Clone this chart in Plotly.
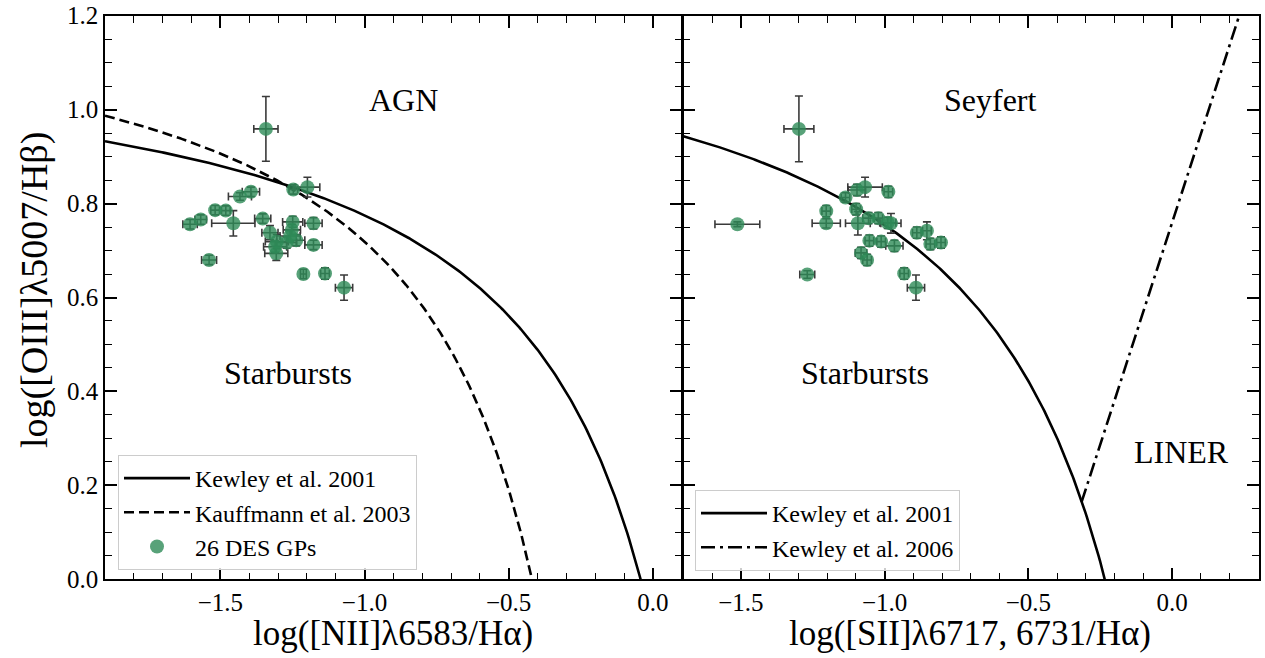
import numpy as np
import plotly.graph_objects as go

# ---------------- data ----------------
# BPT [NII] panel
nii_x = [-1.342, -1.247, -1.198, -1.432, -1.394, -1.518, -1.481, -1.455, -1.605, -1.568,
         -1.353, -1.249, -1.177, -1.328, -1.252, -1.304, -1.270, -1.237, -1.310, -1.306,
         -1.177, -1.539, -1.212, -1.137, -1.071, -1.258]
nii_y = [0.959, 0.830, 0.835, 0.815, 0.825, 0.786, 0.785, 0.758, 0.756, 0.766,
         0.768, 0.761, 0.758, 0.738, 0.744, 0.719, 0.717, 0.722, 0.708, 0.694,
         0.712, 0.680, 0.650, 0.651, 0.621, 0.731]
nii_xerr = [0.042, 0.015, 0.043, 0.040, 0.030, 0.015, 0.015, 0.075, 0.025, 0.020,
            0.028, 0.035, 0.030, 0.028, 0.030, 0.040, 0.035, 0.030, 0.040, 0.040,
            0.030, 0.026, 0.010, 0.015, 0.030, 0.035]
nii_yerr = [0.069, 0.010, 0.021, 0.008, 0.010, 0.010, 0.010, 0.027, 0.010, 0.010,
            0.010, 0.012, 0.012, 0.015, 0.012, 0.015, 0.012, 0.012, 0.012, 0.015,
            0.010, 0.010, 0.010, 0.012, 0.027, 0.012]

# BPT [SII] panel
sii_x = [-1.298, -1.512, -1.269, -1.203, -1.203, -1.136, -1.096, -1.068, -0.987, -1.099,
         -1.093, -1.056, -1.022, -0.989, -0.978, -1.053, -1.012, -0.966, -1.082, -1.061,
         -0.888, -0.853, -0.841, -0.804, -0.932, -0.891]
sii_y = [0.959, 0.756, 0.649, 0.784, 0.758, 0.813, 0.829, 0.835, 0.825, 0.788,
         0.758, 0.769, 0.769, 0.759, 0.758, 0.721, 0.719, 0.710, 0.695, 0.680,
         0.738, 0.742, 0.714, 0.717, 0.651, 0.621]
sii_xerr = [0.052, 0.078, 0.026, 0.015, 0.049, 0.015, 0.030, 0.060, 0.015, 0.015,
            0.043, 0.020, 0.015, 0.028, 0.035, 0.015, 0.015, 0.030, 0.020, 0.015,
            0.015, 0.015, 0.015, 0.015, 0.015, 0.030]
sii_yerr = [0.070, 0.005, 0.008, 0.012, 0.010, 0.010, 0.012, 0.021, 0.012, 0.012,
            0.025, 0.012, 0.012, 0.012, 0.021, 0.012, 0.012, 0.012, 0.012, 0.012,
            0.012, 0.019, 0.012, 0.012, 0.012, 0.027]

# published demarcation lines: y = a / (x - b) + c
kewley01_nii = (0.61, 0.47, 1.19)
kauffmann03_nii = (0.61, 0.05, 1.30)
kewley01_sii = (0.72, 0.32, 1.30)
# Kewley 2006 Seyfert/LINER line: y = m * x + q (starting at its crossing with Kewley 2001)
kewley06_sii = (1.89, 0.76)
kewley06_start = -0.315

legend_left = ["Kewley et al. 2001", "Kauffmann et al. 2003", "26 DES GPs"]
legend_right = ["Kewley et al. 2001", "Kewley et al. 2006"]
region_labels = ["AGN", "Starbursts", "Seyfert", "Starbursts", "LINER"]

x_title_left = "log([NII]λ6583/Hα)"
x_title_right = "log([SII]λ6717, 6731/Hα)"
y_title = "log([OIII]λ5007/Hβ)"


def hyper(coef, xs):
    a, b, c = coef
    xs = np.asarray(xs)
    return a / (xs - b) + c


FONT = "Liberation Serif, Times New Roman, serif"
GREEN = "rgba(46,139,87,0.8)"
ERRC = "#3a3a3a"

fig = go.Figure()

# ---- left panel curves
xa = np.linspace(-1.9, 0.0, 300)
fig.add_trace(go.Scatter(x=xa, y=hyper(kewley01_nii, xa), mode="lines",
                         line=dict(color="black", width=2.6), name=legend_left[0],
                         xaxis="x", yaxis="y", legend="legend"))
xb = np.linspace(-1.9, -0.40, 300)
fig.add_trace(go.Scatter(x=xb, y=hyper(kauffmann03_nii, xb), mode="lines",
                         line=dict(color="black", width=2.6, dash="10px,5px"), name=legend_left[1],
                         xaxis="x", yaxis="y", legend="legend"))
fig.add_trace(go.Scatter(x=nii_x, y=nii_y, mode="markers", name=legend_left[2],
                         marker=dict(size=14, color=GREEN, line=dict(width=0)),
                         error_x=dict(type="data", array=nii_xerr, color=ERRC, thickness=1.6, width=4),
                         error_y=dict(type="data", array=nii_yerr, color=ERRC, thickness=1.6, width=4),
                         xaxis="x", yaxis="y", legend="legend"))

# ---- right panel curves
xc = np.linspace(-1.7, -0.18, 300)
fig.add_trace(go.Scatter(x=xc, y=hyper(kewley01_sii, xc), mode="lines",
                         line=dict(color="black", width=2.6), name=legend_right[0],
                         xaxis="x2", yaxis="y2", legend="legend2"))
m, q = kewley06_sii
xd = np.array([kewley06_start, 0.3])
fig.add_trace(go.Scatter(x=xd, y=m * xd + q, mode="lines",
                         line=dict(color="black", width=2.6, dash="14px,5px,3px,5px"),
                         name=legend_right[1], xaxis="x2", yaxis="y2", legend="legend2"))
fig.add_trace(go.Scatter(x=sii_x, y=sii_y, mode="markers", showlegend=False,
                         marker=dict(size=14, color=GREEN, line=dict(width=0)),
                         error_x=dict(type="data", array=sii_xerr, color=ERRC, thickness=1.6, width=4),
                         error_y=dict(type="data", array=sii_yerr, color=ERRC, thickness=1.6, width=4),
                         xaxis="x2", yaxis="y2"))

W, H = 1265, 658
LW = 1.6
xl0, xl1 = 105 / W, 681.7 / W
xr0, xr1 = (681.7 + LW) / W, 1258.5 / W
yb, yt = 1 - 579.3 / H, 1 - 15.7 / H

axis_common = dict(showline=True, linecolor="black", linewidth=LW, mirror="allticks",
                   ticks="inside", ticklen=12, tickwidth=1.5, tickcolor="black",
                   showgrid=False, zeroline=False, automargin=False,
                   tickfont=dict(family=FONT, size=25, color="black"))
minor_x = dict(ticks="inside", ticklen=7, tickwidth=1.2, dtick=0.1, tick0=0, tickcolor="black")
minor_y = dict(ticks="inside", ticklen=7, tickwidth=1.2, dtick=0.05, tick0=0, tickcolor="black")

fig.update_layout(
    template="none",
    width=W, height=H,
    margin=dict(l=0, r=0, t=0, b=0, autoexpand=False),
    paper_bgcolor="white", plot_bgcolor="white",
    font=dict(family=FONT, color="black"),
    xaxis=dict(domain=[xl0, xl1], range=[-1.9, 0.1], dtick=0.5, tick0=0, anchor="y",
               tickformat=".1f", minor=minor_x, **axis_common),
    yaxis=dict(domain=[yb, yt], range=[0, 1.2], dtick=0.2, tick0=0, anchor="x",
               tickformat=".1f", minor=minor_y, **axis_common),
    xaxis2=dict(domain=[xr0, xr1], range=[-1.7, 0.3], dtick=0.5, tick0=0, anchor="y2",
                tickformat=".1f", minor=minor_x, **axis_common),
    yaxis2=dict(domain=[yb, yt], range=[0, 1.2], dtick=0.2, tick0=0, anchor="x2",
                minor=minor_y, showticklabels=False, **axis_common),
    legend=dict(x=118 / W, y=1 - 455 / H, xanchor="left", yanchor="top",
                bgcolor="rgba(255,255,255,0.8)", bordercolor="#cccccc", borderwidth=1,
                font=dict(family=FONT, size=24, color="black"), itemwidth=66),
    legend2=dict(x=695 / W, y=1 - 490 / H, xanchor="left", yanchor="top",
                 bgcolor="rgba(255,255,255,0.8)", bordercolor="#cccccc", borderwidth=1,
                 font=dict(family=FONT, size=24, color="black"), itemwidth=66),
)

# axis titles
XT_SIZE = 35
fig.add_annotation(text=x_title_left, xref="paper", yref="paper",
                   x=(105 + 681.7) / 2 / W, y=1 - 633 / H, showarrow=False,
                   xanchor="center", yanchor="middle",
                   font=dict(family=FONT, size=XT_SIZE, color="black"))
fig.add_annotation(text=x_title_right, xref="paper", yref="paper",
                   x=(681.7 + 1258.5) / 2 / W, y=1 - 633 / H, showarrow=False,
                   xanchor="center", yanchor="middle",
                   font=dict(family=FONT, size=XT_SIZE, color="black"))
fig.add_annotation(text=y_title, xref="paper", yref="paper",
                   x=35 / W, y=1 - 290 / H, showarrow=False, textangle=-90,
                   xanchor="center", yanchor="middle",
                   font=dict(family=FONT, size=38, color="black"))

ann_pos = [("x", "y", -0.866, 1.02), ("x", "y", -1.265, 0.44),
           ("x2", "y2", -0.631, 1.02), ("x2", "y2", -1.068, 0.44),
           ("x2", "y2", 0.031, 0.271)]
for txt, (xr, yr, ax_, ay_) in zip(region_labels, ann_pos):
    fig.add_annotation(text=txt, x=ax_, y=ay_, xref=xr, yref=yr, showarrow=False,
                       font=dict(family=FONT, size=32, color="black"),
                       xanchor="center", yanchor="middle")

fig.write_html("out.html")
